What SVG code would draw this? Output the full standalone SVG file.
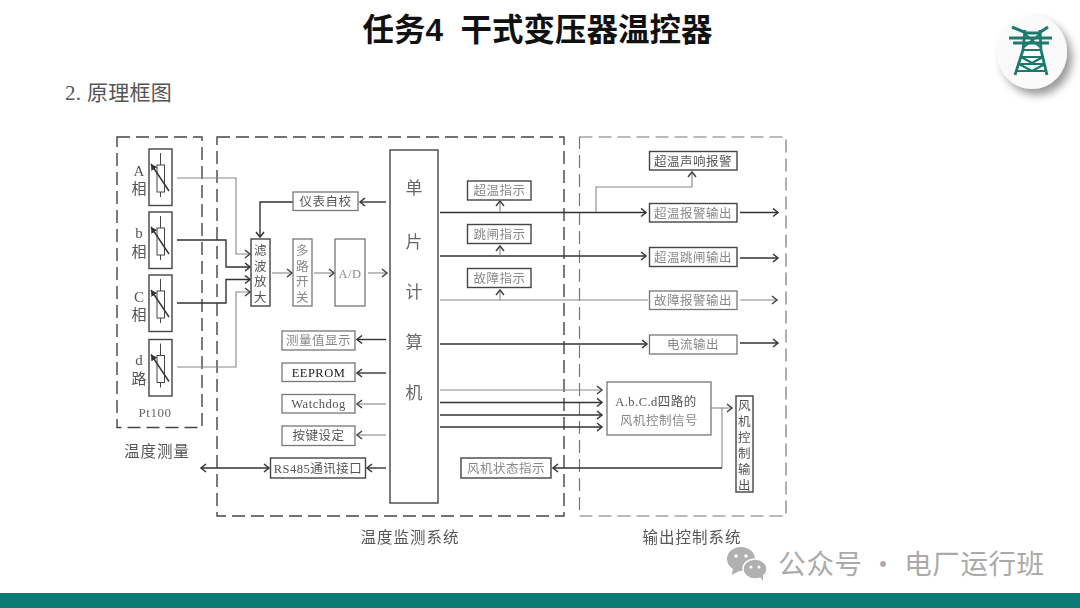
<svg xmlns="http://www.w3.org/2000/svg" width="1080" height="608" viewBox="0 0 1080 608">
<style>
text{font-family:"Liberation Serif","Noto Sans CJK SC",serif;fill:#444;font-size:12.5px;text-anchor:middle}
.t{fill:#555;letter-spacing:.5px}
.lt{fill:#888;letter-spacing:.5px}
.dk{fill:#222;letter-spacing:.5px}
.big{font-size:17px;fill:#666}
.ph{font-size:15px;fill:#555}
.sys{font-size:15.5px;fill:#555;letter-spacing:1px}
.box{fill:#fff;stroke:#444;stroke-width:1.4}
.boxg{fill:#fff;stroke:#777;stroke-width:1.3}
.dash{fill:none;stroke:#444;stroke-width:1.4;stroke-dasharray:13 6}
.dashg{fill:none;stroke:#777;stroke-width:1.2;stroke-dasharray:13 6}
.d{fill:none;stroke:#333;stroke-width:1.4;marker-end:url(#ad)}
.g{fill:none;stroke:#888;stroke-width:1.1;marker-end:url(#ag)}
.dn{fill:none;stroke:#333;stroke-width:1.4}
.gn{fill:none;stroke:#888;stroke-width:1.1}
.res{fill:#fff;stroke:#444;stroke-width:1}
.lead{stroke:#444;stroke-width:1;fill:none}
.diag{stroke:#333;stroke-width:1.4;fill:none;marker-end:url(#ad2)}
</style>
<defs>
<marker id="ad" markerUnits="userSpaceOnUse" markerWidth="10" markerHeight="10" refX="8" refY="5" orient="auto"><path d="M3,1 L8,5 L3,9" fill="none" stroke="#333" stroke-width="1.5"/></marker>
<marker id="as" markerUnits="userSpaceOnUse" markerWidth="10" markerHeight="10" refX="8" refY="5" orient="auto-start-reverse"><path d="M3,1 L8,5 L3,9" fill="none" stroke="#333" stroke-width="1.5"/></marker>
<marker id="ag" markerUnits="userSpaceOnUse" markerWidth="10" markerHeight="10" refX="8" refY="5" orient="auto"><path d="M3,1 L8,5 L3,9" fill="none" stroke="#444" stroke-width="1.5"/></marker>
<marker id="ad2" markerUnits="userSpaceOnUse" markerWidth="8" markerHeight="8" refX="6" refY="4" orient="auto"><path d="M0,0.5 L6,4 L0,7.5 Z" fill="#333"/></marker>
<filter id="soft" x="-2%" y="-2%" width="104%" height="104%"><feGaussianBlur stdDeviation="0.35"/></filter>
<filter id="sh" x="-40%" y="-40%" width="190%" height="190%"><feDropShadow dx="5" dy="6" stdDeviation="4" flood-color="#000" flood-opacity=".4"/></filter>
<g id="rt">
<rect class="box" x="0" y="0" width="23" height="56.500"/>
<path class="lead" d="M11.500,4V48"/>
<rect class="res" x="8" y="16" width="7.500" height="27"/>
<path class="diag" d="M20,42 L2,15"/>
</g>
</defs>
<rect width="1080" height="608" fill="#fff"/>

<g id="title"><text x="537.500" y="41" style="font-family:'Liberation Sans','Noto Sans CJK SC',sans-serif;font-size:31.500px;font-weight:700;fill:#111" xml:space="preserve">任务4  干式变压器温控器</text></g>
<g id="subtitle"><text x="65" y="100" style="font-size:21px;text-anchor:start;fill:#555;letter-spacing:.3px">2. 原理框图</text></g>

<g id="logo">
<ellipse cx="1032" cy="52" rx="35" ry="37" fill="#fafafa" filter="url(#sh)"/>
<g fill="none" stroke="#1c7a6c" stroke-width="2.200">
<path d="M1012,27 L1026,33 H1039 L1048,27" stroke-width="3"/>
<path d="M1009,38 H1052 M1013,43 H1049" stroke-width="3"/>
<path d="M1025,30 L1023,50 L1015,75 M1040,30 L1041,50 L1047,75" stroke-width="2.800"/>
<path d="M1025,34 L1040,47 M1040,34 L1024,47 M1023,50 H1041 M1021,57 H1043 M1021,57 L1032,63 L1043,57 M1019,64 H1045 M1019,64 L1032,71 L1045,64 M1017,71 H1046"/>
</g>
</g>

<g id="diagram" filter="url(#soft)">
<rect class="dash" x="117" y="137" width="85" height="290.500"/>
<rect class="dash" x="217" y="137" width="347" height="379"/>
<rect class="dashg" x="579.500" y="137" width="206.500" height="379"/>

<g id="connectors">
<path class="g" d="M177,178H236V254H250"/>
<path class="d" d="M177,240H226V267H250"/>
<path class="d" d="M177,303H226V279.500H250"/>
<path class="g" d="M177,367H236V292H250"/>
<path class="d" d="M293,202H260V237"/>
<path class="d" d="M386,202H360"/>
<path class="g" d="M272,273H292"/>
<path class="g" d="M314,273H334"/>
<path class="g" d="M368,273H387"/>
<path class="d" d="M386,339.500H357"/>
<path class="d" d="M386,373H357"/>
<path class="g" d="M386,404H357"/>
<path class="g" d="M386,435H357"/>
<path class="d" d="M386,468H367"/>
<path class="d" d="M201,468H269" marker-start="url(#as)"/>
<path class="d" d="M440,212.500H646"/>
<path class="d" d="M440,256H646"/>
<path class="gn" d="M440,300H648"/>
<path class="d" d="M440,344H647"/>
<path class="g" d="M500,212V201"/>
<path class="g" d="M500,256V246"/>
<path class="g" d="M500,300V290"/>
<path class="g" d="M596,212V187H692V172"/>
<path class="d" d="M740,212.500H778"/>
<path class="d" d="M740,258H778"/>
<path class="g" d="M740,300H777"/>
<path class="d" d="M740,343H778"/>
<path class="g" d="M440,390H602"/>
<path class="d" d="M440,402.500H602"/>
<path class="d" d="M440,415H602"/>
<path class="d" d="M440,427H602"/>
<path class="g" d="M711,408H732"/>
<path class="gn" d="M722,408V468"/>
<path class="d" d="M722,468H553"/>
</g>

<g id="node-a"><use href="#rt" x="149" y="149"/><text class="ph" x="139" y="176">A</text><text class="ph" x="139" y="194">相</text></g>
<g id="node-b"><use href="#rt" x="149" y="212"/><text class="ph" x="139" y="238">b</text><text class="ph" x="139" y="257">相</text></g>
<g id="node-c"><use href="#rt" x="149" y="275"/><text class="ph" x="139" y="302">C</text><text class="ph" x="139" y="320">相</text></g>
<g id="node-d"><use href="#rt" x="149" y="339.500"/><text class="ph" x="139" y="365">d</text><text class="ph" x="139" y="384">路</text></g>
<text x="155" y="417" style="font-size:13px;fill:#666;letter-spacing:.5px">Pt100</text>
<text class="sys" x="157" y="457">温度测量</text>

<g id="node-filter"><rect class="box" x="251" y="239" width="19" height="67"/><text class="t" x="260.500" y="255">滤<tspan x="260.500" dy="15.500">波</tspan><tspan x="260.500" dy="15.500">放</tspan><tspan x="260.500" dy="15.500">大</tspan></text></g>
<g id="node-mux"><rect class="boxg" x="293" y="239" width="19" height="67"/><text class="lt" x="302.500" y="255">多<tspan x="302.500" dy="15.500">路</tspan><tspan x="302.500" dy="15.500">开</tspan><tspan x="302.500" dy="15.500">关</tspan></text></g>
<g id="node-ad"><rect class="boxg" x="335" y="239" width="30" height="67"/><text class="lt" x="350" y="278">A/D</text></g>
<g id="node-selfcal"><rect class="boxg" x="293" y="192" width="65" height="18.500"/><text class="t" x="325.500" y="206">仪表自校</text></g>

<g id="node-mcu"><rect class="box" x="390" y="150" width="48" height="353"/>
<text class="big" x="414" y="194">单</text><text class="big" x="414" y="248">片</text><text class="big" x="414" y="298">计</text><text class="big" x="414" y="348">算</text><text class="big" x="414" y="399">机</text></g>

<g id="node-display"><rect class="boxg" x="282" y="331" width="73" height="19"/><text class="lt" x="318.500" y="345">测量值显示</text></g>
<g id="node-eeprom"><rect class="boxg" x="282" y="363" width="73" height="18.500"/><text class="dk" x="318.500" y="377">EEPROM</text></g>
<g id="node-watchdog"><rect class="boxg" x="282" y="394.500" width="73" height="18.500"/><text class="t" x="318.500" y="408">Watchdog</text></g>
<g id="node-keys"><rect class="boxg" x="282" y="426" width="73" height="19.500"/><text class="t" x="318.500" y="440">按键设定</text></g>
<g id="node-rs485"><rect class="box" x="270.500" y="458" width="95" height="20"/><text class="t" x="318" y="472.500">RS485通讯接口</text></g>

<g id="node-ind1"><rect class="box" x="467.500" y="181" width="63.500" height="19"/><text class="lt" x="499.500" y="195">超温指示</text></g>
<g id="node-ind2"><rect class="box" x="467.500" y="224.500" width="63.500" height="19"/><text class="lt" x="499.500" y="239">跳闸指示</text></g>
<g id="node-ind3"><rect class="box" x="467.500" y="268.500" width="63.500" height="19"/><text class="lt" x="499.500" y="283">故障指示</text></g>

<g id="node-out0"><rect class="box" x="649.500" y="151.500" width="87.500" height="18.500"/><text class="t" x="693" y="165.500">超温声响报警</text></g>
<g id="node-out1"><rect class="box" x="649.500" y="203.500" width="87.500" height="18.500"/><text class="lt" x="693" y="217.500">超温报警输出</text></g>
<g id="node-out2"><rect class="box" x="649.500" y="247.500" width="87.500" height="19"/><text class="lt" x="693" y="261.500">超温跳闸输出</text></g>
<g id="node-out3"><rect class="boxg" x="649.500" y="291" width="87.500" height="18.500"/><text class="lt" x="693" y="305">故障报警输出</text></g>
<g id="node-out4"><rect class="boxg" x="649.500" y="335" width="87.500" height="19"/><text class="lt" x="693" y="349">电流输出</text></g>

<g id="node-fansig"><rect class="boxg" x="607" y="382" width="104" height="53"/><text class="t" x="656" y="406">A.b.C.d四路的</text><text class="lt" x="659" y="425">风机控制信号</text></g>
<g id="node-fanout"><rect class="box" x="736" y="396" width="17" height="96"/><text class="t" x="744.500" y="410">风<tspan x="744.500" dy="16">机</tspan><tspan x="744.500" dy="16">控</tspan><tspan x="744.500" dy="16">制</tspan><tspan x="744.500" dy="16">输</tspan><tspan x="744.500" dy="16">出</tspan></text></g>
<g id="node-fanstate"><rect class="box" x="461" y="458" width="90" height="20"/><text class="lt" x="506" y="472.500">风机状态指示</text></g>

<text class="sys" x="410" y="543">温度监测系统</text>
<text class="sys" x="692" y="543">输出控制系统</text>
</g>

<g id="watermark">
<ellipse cx="741" cy="559" rx="14" ry="12" fill="#b0b0b0"/><path d="M733,567 L732,575 L741,570 Z" fill="#b0b0b0"/>
<circle cx="736" cy="556" r="1.800" fill="#fff"/><circle cx="746" cy="556" r="1.800" fill="#fff"/>
<ellipse cx="755" cy="569" rx="12" ry="10" fill="#b0b0b0" stroke="#fff" stroke-width="1.500"/><path d="M760,577 L763,581 L763,574 Z" fill="#b0b0b0"/>
<circle cx="751" cy="567" r="1.500" fill="#fff"/><circle cx="759" cy="567" r="1.500" fill="#fff"/>
<text x="911.500" y="574" style="font-family:'Noto Sans CJK SC',sans-serif;font-size:27.500px;fill:#aaa;letter-spacing:.6px" xml:space="preserve">公众号 · 电厂运行班</text>
</g>
<rect id="band" x="0" y="593" width="1080" height="15" fill="#0a7b75"/>
</svg>
